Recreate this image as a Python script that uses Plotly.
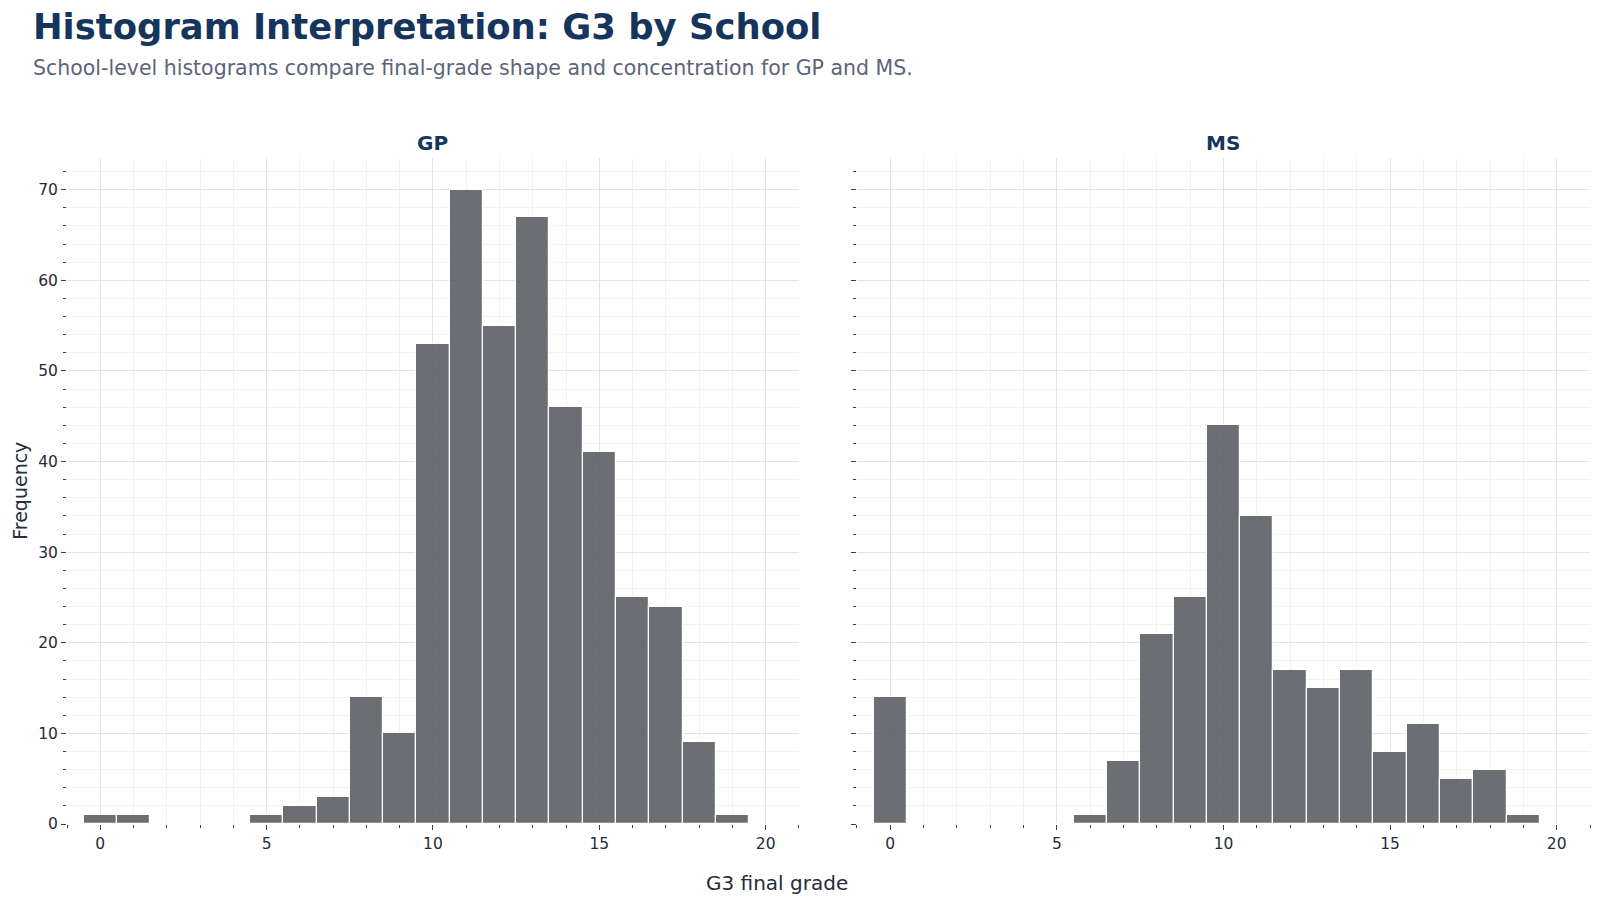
import plotly.graph_objects as go

grades = list(range(0, 20))
gp_counts = [1, 1, 0, 0, 0, 1, 2, 3, 14, 10, 53, 70, 55, 67, 46, 41, 25, 24, 9, 1]
ms_counts = [14, 0, 0, 0, 0, 0, 1, 7, 21, 25, 44, 34, 17, 15, 17, 8, 11, 5, 6, 1]
panels = ["GP", "MS"]

TITLE_COLOR = "#16355c"
TEXT_COLOR = "#262c38"
FONT = "DejaVu Sans"
BAR_COLOR = "#5c5f64"

fig = go.Figure()
for i, counts in enumerate([gp_counts, ms_counts]):
    sfx = "" if i == 0 else str(i + 1)
    fig.add_trace(go.Bar(
        x=grades, y=counts, width=1,
        marker=dict(color=BAR_COLOR, opacity=0.9, line=dict(color="white", width=1.2)),
        xaxis="x" + sfx, yaxis="y" + sfx, showlegend=False, name=panels[i],
    ))

axis_common = dict(
    showline=False, zeroline=False,
    gridcolor="#e0e5ee", gridwidth=1,
    ticks="outside", ticklen=5, tickcolor="#3a3f4a", tickwidth=1,
    tickfont=dict(family=FONT, size=15.5, color=TEXT_COLOR),
)
xaxis_common = dict(axis_common, range=[-1, 21], tickmode="linear", tick0=0, dtick=5,
                    minor=dict(dtick=1, tick0=0, ticks="outside", ticklen=3, tickcolor="#3a3f4a",
                               showgrid=True, gridcolor="#f1f3f7", gridwidth=1))
yaxis_common = dict(axis_common, range=[0, 73.5], tickmode="linear", tick0=0, dtick=10,
                    minor=dict(dtick=2, tick0=0, ticks="outside", ticklen=3, tickcolor="#3a3f4a",
                               showgrid=True, gridcolor="#f1f3f7", gridwidth=1))

fig.update_layout(
    width=1600, height=906,
    margin=dict(l=67, r=10, t=158, b=82),
    plot_bgcolor="white", paper_bgcolor="white",
    bargap=0,
    font=dict(family=FONT, color=TEXT_COLOR),
    xaxis=dict(xaxis_common, domain=[0, 0.4806], anchor="y"),
    xaxis2=dict(xaxis_common, domain=[0.5187, 1], anchor="y2"),
    yaxis=dict(yaxis_common, domain=[0, 1], anchor="x"),
    yaxis2=dict(yaxis_common, domain=[0, 1], anchor="x2", matches="y", showticklabels=False),
)

annotations = [
    dict(text="<b>Histogram Interpretation: G3 by School</b>", x=31 / 1600, y=1 - 26 / 906,
         xref="paper", yref="paper", showarrow=False, xanchor="left", yanchor="middle",
         font=dict(family=FONT, size=35.4, color=TITLE_COLOR)),
    dict(text="School-level histograms compare final-grade shape and concentration for GP and MS.",
         x=31 / 1600, y=1 - 68 / 906, xref="paper", yref="paper", showarrow=False,
         xanchor="left", yanchor="middle",
         font=dict(family=FONT, size=20.5, color="#5b6579")),
    dict(text="G3 final grade", x=0.466, y=-0.0886, xref="paper", yref="paper",
         showarrow=False, xanchor="center", yanchor="middle",
         font=dict(family=FONT, size=20, color=TEXT_COLOR)),
    dict(text="Frequency", x=-0.031, y=0.5, xref="paper", yref="paper", textangle=-90,
         showarrow=False, xanchor="center", yanchor="middle",
         font=dict(family=FONT, size=19, color=TEXT_COLOR)),
]
doms = [(0, 0.4806), (0.5187, 1)]
for name, (a, b) in zip(panels, doms):
    annotations.append(dict(text=f"<b>{name}</b>", x=(a + b) / 2, y=1.023, xref="paper", yref="paper",
                            showarrow=False, xanchor="center", yanchor="middle",
                            font=dict(family=FONT, size=20, color=TITLE_COLOR)))

# convert the title/subtitle positions (given as figure fraction) into paper coords
plot_top, plot_bot = 158, 824
for ann in annotations[:2]:
    py = (1 - ann["y"]) * 906
    ann["y"] = (plot_bot - py) / (plot_bot - plot_top)
    ann["x"] = (ann["x"] * 1600 - 67) / (1600 - 67 - 10)

fig.update_layout(annotations=annotations)
fig.write_html("out.html")
